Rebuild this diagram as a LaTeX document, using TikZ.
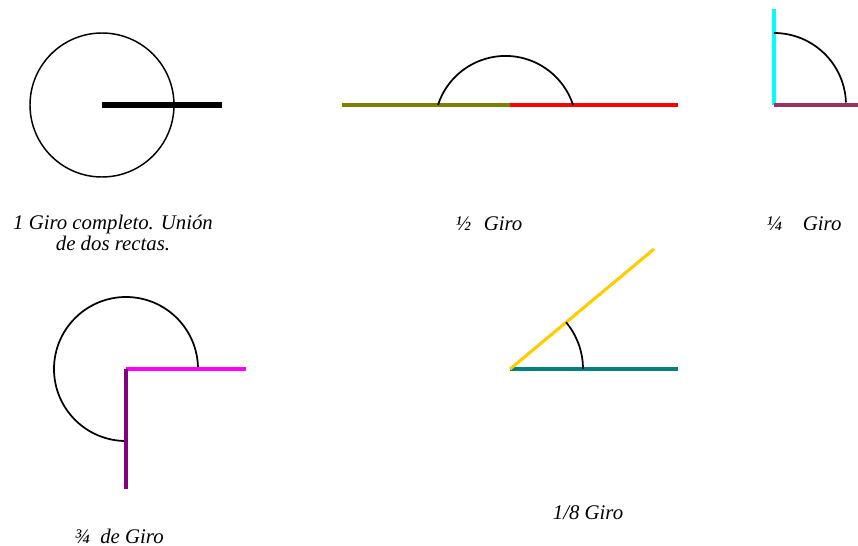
\documentclass[tikz,border=0pt]{standalone}
\usepackage{fontspec}
\setmainfont{Liberation Serif}
\definecolor{olivec}{HTML}{808000}
\definecolor{redc}{HTML}{FF0000}
\definecolor{cyanc}{HTML}{00FFFF}
\definecolor{plumc}{HTML}{993366}
\definecolor{magc}{HTML}{FF00FF}
\definecolor{purpc}{HTML}{800080}
\definecolor{tealc}{HTML}{008080}
\definecolor{goldc}{HTML}{FFCC00}
\tikzset{
  arcline/.style={draw=black, line width=1.3pt},
  ray/.style={line width=2.3pt},
  lbl/.style={font=\fontsize{15.6}{15.8}\selectfont\itshape, align=center, inner sep=0pt}
}
\begin{document}
\begin{tikzpicture}[x=0.75pt,y=-0.75pt]
\useasboundingbox (0,0) rectangle (858,546);
% Figure 1: full turn
\coordinate (c1) at (102,105);
\coordinate (e1) at (222,105);
\draw[arcline, line width=1.1pt] (c1) circle[radius=72];
\draw[line width=3.8pt] (c1) -- (e1);
\node[lbl] (t1) at (113,233) {1 Giro completo. Unión\\de dos rectas.};
% Figure 2: half turn
\coordinate (a2) at (342,105);
\coordinate (c2) at (510,105);
\coordinate (b2) at (678,105);
\draw[ray, olivec, line width=3pt] (a2) -- (c2);
\draw[ray, redc] (c2) -- (b2);
\draw[arcline] (438,105) arc[start angle=198, end angle=342, radius=71];
\node[lbl] (t2) at (489,224) {½\hspace{0.6em}Giro};
% Figure 3: quarter turn
\coordinate (c3) at (774,105);
\coordinate (u3) at (774,9);
\coordinate (r3) at (858,105);
\draw[ray, cyanc] (c3) -- (u3);
\draw[ray, plumc] (c3) -- (r3);
\draw[arcline] (774,33) arc[start angle=270, end angle=358, radius=72];
\node[lbl] (t3) at (804,224) {¼\hspace{1em}Giro};
% Figure 4: three quarters
\coordinate (c4) at (126,369);
\coordinate (r4) at (246,369);
\coordinate (d4) at (126,489);
\draw[arcline] (198,369) arc[start angle=360, end angle=90, radius=72];
\draw[ray, magc] (c4) -- (r4);
\draw[ray, purpc] (c4) -- (d4);
\node[lbl] (t4) at (119,536) {¾\hspace{0.5em}de Giro};
% Figure 5: one eighth
\coordinate (c5) at (510,369);
\coordinate (r5) at (678,369);
\coordinate (u5) at (654,249);
\draw[ray, tealc] (c5) -- (r5);
\draw[ray, goldc] (c5) -- (u5);
\draw[arcline] (583,369) arc[start angle=360, end angle=320.2, radius=73];
\node[lbl] (t5) at (588,513) {1/8 Giro};
\end{tikzpicture}
\end{document}
